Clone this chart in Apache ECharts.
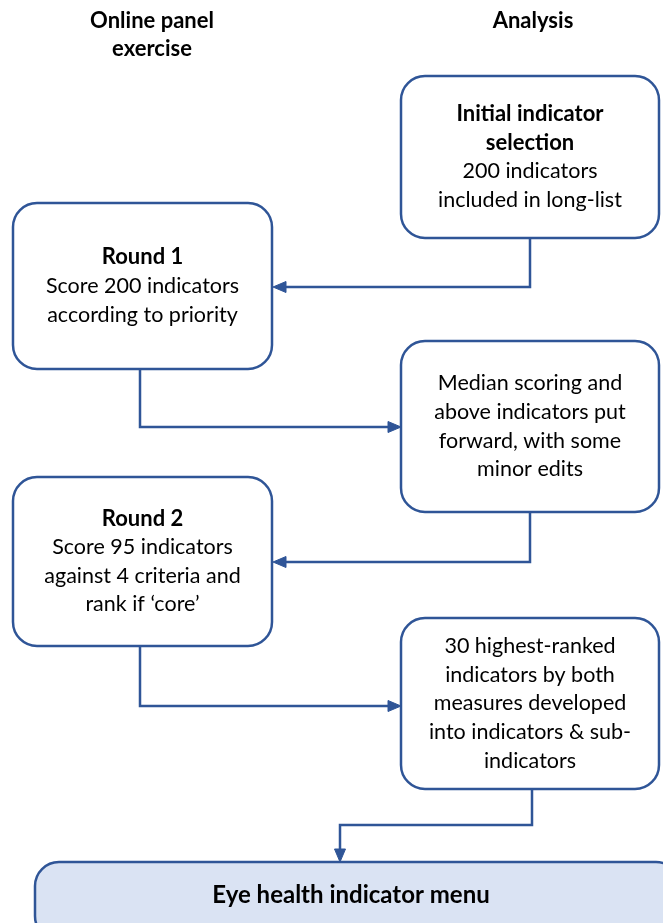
<!DOCTYPE html>
<html>
<head>
<meta charset="utf-8">
<script src="https://cdn.jsdelivr.net/npm/echarts@6/dist/echarts.min.js"></script>
<style>
html,body{margin:0;padding:0;background:#fff;}
#chart{width:663px;height:923px;}
</style>
</head>
<body>
<div id="chart"></div>
<script>
// Column headers
var headers = [
  {text: 'Online panel\nexercise', x: 152, y: 35},
  {text: 'Analysis', x: 533, y: 21}
];
// Box titles (bold) and body texts
var boxTitles = ['Initial indicator\nselection', 'Round 1', '', 'Round 2', '', 'Eye health indicator menu'];
var boxBodies = [
  '200 indicators\nincluded in long-list',
  'Score 200 indicators\naccording to priority',
  'Median scoring and\nabove indicators put\nforward, with some\nminor edits',
  'Score 95 indicators\nagainst 4 criteria and\nrank if \u2018core\u2019',
  '30 highest-ranked\nindicators by both\nmeasures developed\ninto indicators & sub-\nindicators',
  ''
];
// Box layout: [x0, y0, x1, y1]
var boxRects = [
  [401, 76, 659, 238],
  [13, 203, 272, 369],
  [401, 341, 659, 512],
  [13, 477, 272, 646],
  [401, 618, 659, 789],
  [35, 862, 680, 940]
];
var boxFills = ['#ffffff', '#ffffff', '#ffffff', '#ffffff', '#ffffff', '#DAE3F3'];
// Connector arrows (polyline vertices, last point = arrow tip)
var arrows = [
  [[530, 238], [530, 287], [273, 287]],
  [[140, 369], [140, 427], [401, 427]],
  [[530, 512], [530, 562], [273, 562]],
  [[140, 646], [140, 706], [401, 706]],
  [[532, 789], [532, 825], [340, 825], [340, 862]]
];

var BLUE = '#2F5597';
var FONT = 'Lato';

var boxData = boxRects.map(function (r, i) {
  return {value: r, title: boxTitles[i], body: boxBodies[i], fill: boxFills[i]};
});

function renderBox(params, api) {
  var d = boxData[params.dataIndex];
  var p0 = api.coord([d.value[0], d.value[1]]);
  var p1 = api.coord([d.value[2], d.value[3]]);
  var last = params.dataIndex === 5;
  var parts = [];
  if (d.title) d.title.split('\n').forEach(function (l) { parts.push((last ? '{t|' : '{b|') + l + '}'); });
  if (d.body) d.body.split('\n').forEach(function (l) { parts.push('{n|' + l + '}'); });
  var cx = (p0[0] + p1[0]) / 2;
  var cy = (p0[1] + p1[1]) / 2;
  if (last) { cx = 351; cy = 895; }
  return {
    type: 'group',
    children: [
      {
        type: 'rect',
        shape: {x: p0[0], y: p0[1], width: p1[0] - p0[0], height: p1[1] - p0[1], r: 24},
        style: {fill: d.fill, stroke: BLUE, lineWidth: 2.5}
      },
      {
        type: 'text',
        x: cx, y: cy,
        style: {
          text: parts.join('\n'),
          align: 'center', verticalAlign: 'middle',
          fill: '#000',
          rich: {
            b: {fontFamily: FONT, fontWeight: 'bold', fontSize: 22, lineHeight: 28.7, fill: '#000'},
            t: {fontFamily: FONT, fontWeight: 'bold', fontSize: 24, lineHeight: 30, fill: '#000'},
            n: {fontFamily: FONT, fontSize: 21.5, lineHeight: 28.7, fill: '#000'}
          }
        }
      }
    ]
  };
}

function renderArrow(params, api) {
  var pts = arrows[params.dataIndex].map(function (p) { return api.coord(p); });
  var n = pts.length;
  var tip = pts[n - 1], prev = pts[n - 2];
  var dx = tip[0] - prev[0], dy = tip[1] - prev[1];
  var len = Math.sqrt(dx * dx + dy * dy);
  var ux = dx / len, uy = dy / len;
  var L = 13, W = 5.5;
  var base = [tip[0] - ux * L, tip[1] - uy * L];
  var linePts = pts.slice(0, n - 1).concat([base]);
  return {
    type: 'group',
    children: [
      {type: 'polyline', shape: {points: linePts},
        style: {stroke: BLUE, lineWidth: 2.5, fill: null}},
      {type: 'polygon', shape: {points: [
        tip,
        [base[0] - uy * W, base[1] + ux * W],
        [base[0] + uy * W, base[1] - ux * W]
      ]}, style: {fill: BLUE, stroke: BLUE, lineWidth: 1}}
    ]
  };
}

var chart = echarts.init(document.getElementById('chart'));
chart.setOption({
  backgroundColor: '#fff',
  animation: false,
  grid: {left: 0, right: 0, top: 0, bottom: 0},
  xAxis: {type: 'value', min: 0, max: 663, show: false},
  yAxis: {type: 'value', min: 0, max: 923, inverse: true, show: false},
  graphic: headers.map(function (h) {
    return {
      type: 'text', x: h.x, y: h.y,
      style: {text: h.text, align: 'center', verticalAlign: 'middle',
        fontFamily: FONT, fontWeight: 'bold', fontSize: 22, lineHeight: 28, fill: '#000'}
    };
  }),
  series: [
    {
      type: 'custom',
      coordinateSystem: 'cartesian2d',
      renderItem: renderBox,
      data: boxData.map(function (d) { return d.value; }),
      clip: false,
      z: 2
    },
    {
      type: 'custom',
      coordinateSystem: 'cartesian2d',
      renderItem: renderArrow,
      data: arrows.map(function (a, i) { return [a[0][0], a[0][1]]; }),
      clip: false,
      z: 3
    }
  ]
});
</script>
</body>
</html>
